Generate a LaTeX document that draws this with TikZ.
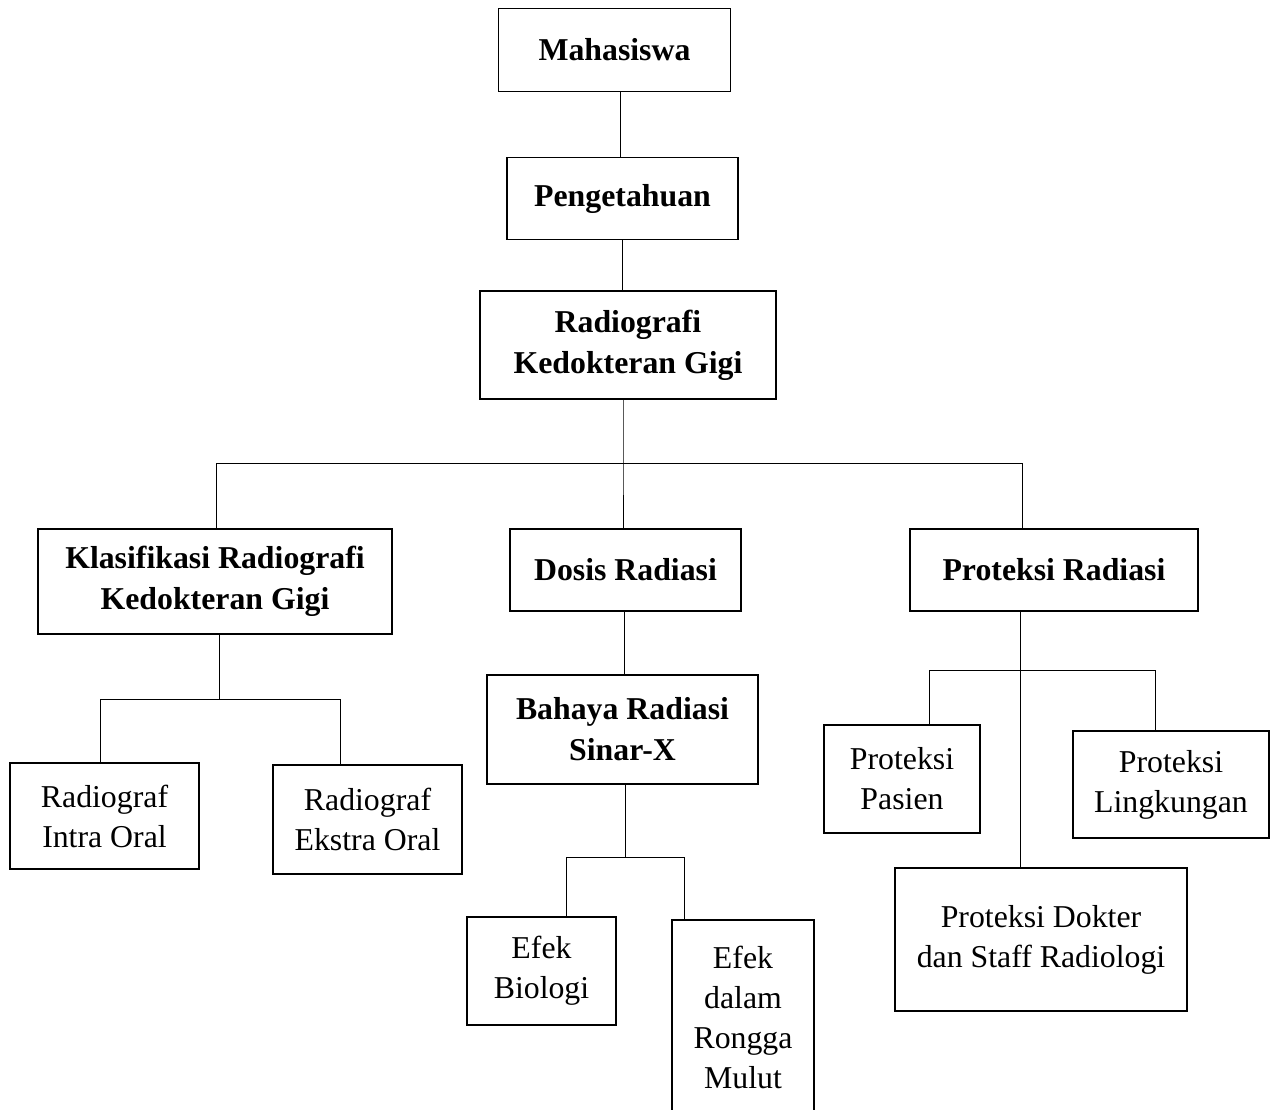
\documentclass[tikz,border=0pt]{standalone}
\usepackage{fontspec}
\setmainfont{Liberation Serif}
\begin{document}
\begin{tikzpicture}[x=1pt,y=-1pt,
  box/.style={draw,line width=1.1pt,align=center,inner sep=0pt,font=\fontsize{31.8}{40}\selectfont},
  bbox/.style={box,font=\fontsize{31.8}{41}\selectfont\bfseries},
  conn/.style={line width=0.9pt}]
\clip (0,0) rectangle (1279,1109);
\fill[white] (0,0) rectangle (1279,1109);
% nodes
\node[bbox, minimum width=232, minimum height=83] (mhs) at (614.5,50) {Mahasiswa};
\node[bbox, minimum width=231, minimum height=82] (peng) at (622.5,198.5) {Pengetahuan};
\node[bbox, minimum width=296, minimum height=108] (rkg) at (628,345) {Radiografi\\Kedokteran Gigi};
\node[bbox, minimum width=354, minimum height=105] (klas) at (215,581.5) {Klasifikasi Radiografi\\Kedokteran Gigi};
\node[bbox, minimum width=231, minimum height=82] (dosis) at (625.5,570) {Dosis Radiasi};
\node[bbox, minimum width=288, minimum height=82] (prot) at (1054,570) {Proteksi Radiasi};
\node[box, minimum width=189, minimum height=106] (intra) at (104.5,816) {Radiograf\\Intra Oral};
\node[box, minimum width=189, minimum height=109] (ekstra) at (367.5,819.5) {Radiograf\\Ekstra Oral};
\node[bbox, minimum width=271, minimum height=109] (bahaya) at (622.5,729.5) {Bahaya Radiasi\\Sinar-X};
\node[box, minimum width=149, minimum height=108] (biologi) at (541.5,971) {Efek\\Biologi};
\node[box, minimum width=142, minimum height=195] (rongga) at (743,1017.5) {Efek\\dalam\\Rongga\\Mulut};
\node[box, minimum width=156, minimum height=108] (pasien) at (902,779) {Proteksi\\Pasien};
\node[box, minimum width=196, minimum height=107] (lingk) at (1171,784.5) {Proteksi\\Lingkungan};
\node[box, minimum width=292, minimum height=143] (dokter) at (1041,939.5) {Proteksi Dokter\\dan Staff Radiologi};
% helper coordinates
\coordinate (c1) at (620,0);
\coordinate (c2) at (622,0);
\coordinate (t) at (623,463);
\coordinate (tl) at (216,463);
\coordinate (tr) at (1022,463);
\coordinate (d1) at (624,0);
\coordinate (b1) at (625,857);
\coordinate (bl) at (566,857);
\coordinate (br) at (684,857);
\coordinate (k1) at (219,699);
\coordinate (kl) at (100,699);
\coordinate (kr) at (340,699);
\coordinate (p1) at (1020,0);
\coordinate (pl) at (929,670);
\coordinate (pr) at (1155,670);
% connectors
\draw[conn] (c1 |- mhs.south) -- (c1 |- peng.north);
\draw[conn] (c2 |- peng.south) -- (c2 |- rkg.north);
\draw[conn] (t |- rkg.south) -- (t) -- (t |- dosis.north);
\draw[conn] (tl |- klas.north) -- (tl) -- (tr) -- (tr |- prot.north);
\draw[conn] (d1 |- dosis.south) -- (d1 |- bahaya.north);
\draw[conn] (b1 |- bahaya.south) -- (b1);
\draw[conn] (bl |- biologi.north) -- (bl) -- (br) -- (br |- rongga.north);
\draw[conn] (k1 |- klas.south) -- (k1);
\draw[conn] (kl |- intra.north) -- (kl) -- (kr) -- (kr |- ekstra.north);
\draw[conn] (p1 |- prot.south) -- (p1 |- dokter.north);
\draw[conn] (pl |- pasien.north) -- (pl) -- (pr) -- (pr |- lingk.north);
\end{tikzpicture}
\end{document}
